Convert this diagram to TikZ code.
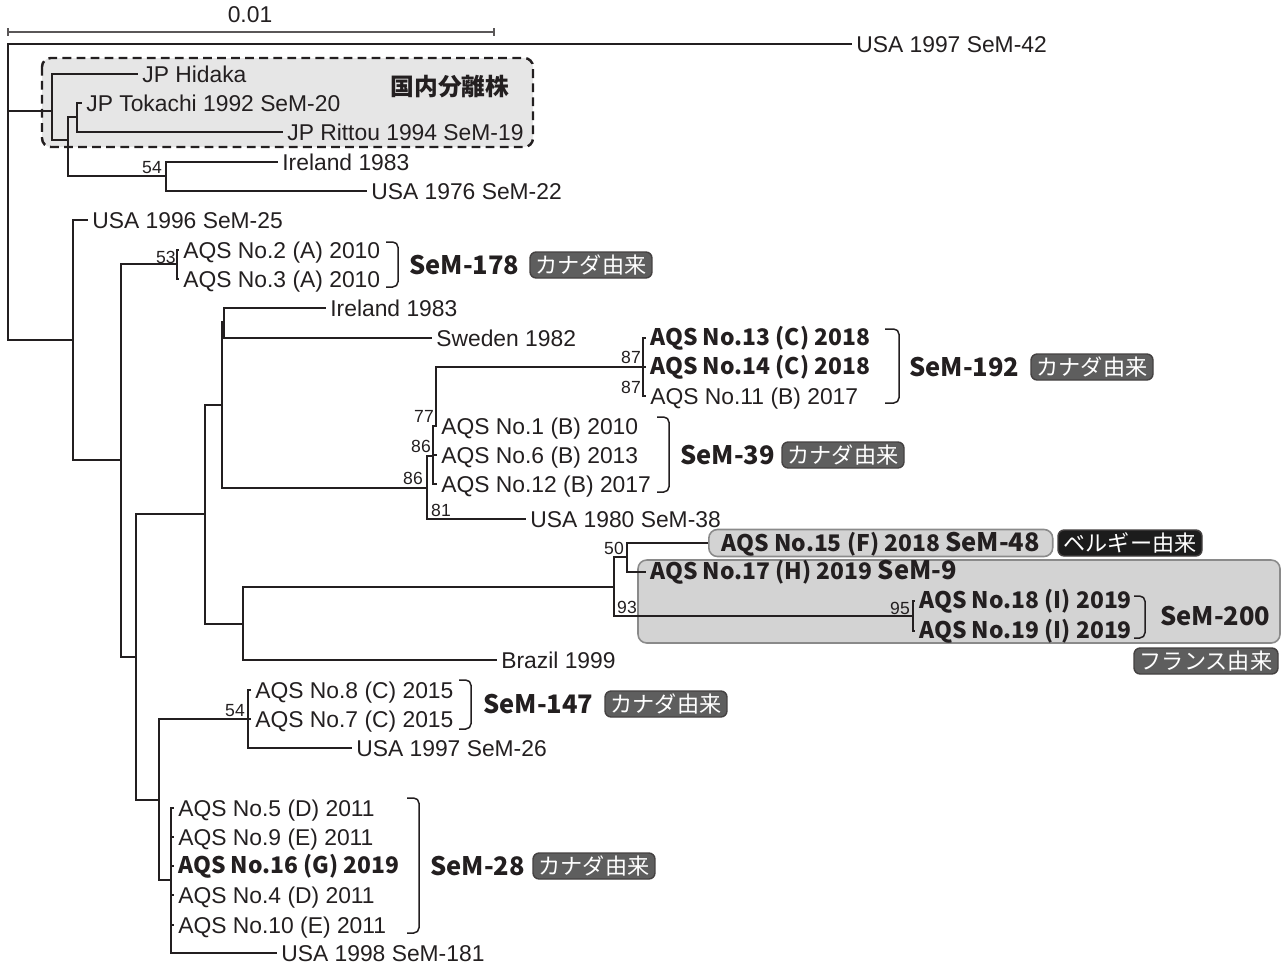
\documentclass[tikz,border=0pt]{standalone}
\usepackage{fontspec}
\setmainfont{Liberation Sans}
\newfontfamily\jpfont{Noto Sans CJK JP}
\usepackage{tikz}
\usetikzlibrary{calc,backgrounds}

\definecolor{ink}{HTML}{231F20}
\definecolor{jpboxgray}{HTML}{E6E6E6}
\definecolor{cladegray}{HTML}{D3D3D3}
\definecolor{edgegray}{HTML}{8A8A8A}
\definecolor{badgegray}{HTML}{5E5E5E}
\definecolor{badgedark}{HTML}{1C1C1C}

\tikzset{
  branch/.style={draw=ink,line width=1.1pt},
  leaf/.style={anchor=west,inner xsep=0.08cm,inner ysep=0pt,text height=9.3pt,text depth=0pt,
    text=ink,font=\fontsize{13}{14}\selectfont},
  leafbold/.style={leaf,text height=8.6pt,font=\jpfont\bfseries\fontsize{13}{15}\selectfont},
  boot/.style={inner sep=0pt,text=ink,font=\fontsize{10}{11}\selectfont},
  semlab/.style={anchor=west,inner sep=0pt,text=ink,font=\jpfont\bfseries\fontsize{14.5}{17}\selectfont},
  brack/.style={draw=ink,line width=0.85pt,rounded corners=3pt},
  badge/.style={rounded corners=3.5pt,fill=badgegray,draw=ink!85,line width=0.8pt,text=white,
    font=\jpfont\fontsize{12.6}{12}\selectfont,minimum width=2.44cm,minimum height=0.52cm,inner sep=0pt},
  widebadge/.style={badge,minimum width=2.88cm},
}

\begin{document}
\begin{tikzpicture}[x=0.02cm,y=-0.02cm]
	\useasboundingbox (0,0) rectangle (1284,967);

	%shaded boxes
	\filldraw[fill=jpboxgray,draw=ink,line width=1.4pt,dash pattern=on 5pt off 3pt,rounded corners=5pt]
		(42,58) rectangle (533,147);
	\filldraw[fill=cladegray,draw=edgegray,line width=0.9pt,rounded corners=5pt]
		(638,560) rectangle (1280,643);

	%scale bar
	\coordinate (sb0) at (8,32);
	\coordinate (sb1) at (494,32);
	\draw[ink!75,line width=0.7pt] (sb0) -- (sb1);
	\draw[ink!75,line width=0.7pt] ($(sb0)+(0,-4)$) -- ($(sb0)+(0,4)$);
	\draw[ink!75,line width=0.7pt] ($(sb1)+(0,-4)$) -- ($(sb1)+(0,4)$);
	\node[text=ink,font=\fontsize{13}{14}\selectfont] (sblab) at (250,15) {0.01};

	%leaves
	\node[leaf] (usa42)   at (852,44)  {USA 1997 SeM-42};
	\node[leaf] (hidaka)  at (138,74)  {JP Hidaka};
	\node[leaf] (tokachi) at (82,103)  {JP Tokachi 1992 SeM-20};
	\node[leaf] (rittou)  at (283,132) {JP Rittou 1994 SeM-19};
	\node[leaf] (ire83a)  at (278,162) {Ireland 1983};
	\node[leaf] (usa22)   at (367,191) {USA 1976 SeM-22};
	\node[leaf] (usa25)   at (88,220)  {USA 1996 SeM-25};
	\node[leaf] (aqs2)    at (179,250) {AQS No.2 (A) 2010};
	\node[leaf] (aqs3)    at (179,279) {AQS No.3 (A) 2010};
	\node[leaf] (ire83b)  at (326,308) {Ireland 1983};
	\node[leaf] (swe82)   at (432,338) {Sweden 1982};
	\node[leafbold] (aqs13) at (646,338) {AQS No.13 (C) 2018};
	\node[leafbold] (aqs14) at (646,367) {AQS No.14 (C) 2018};
	\node[leaf] (aqs11)   at (646,396) {AQS No.11 (B) 2017};
	\node[leaf] (aqs1)    at (437,426) {AQS No.1 (B) 2010};
	\node[leaf] (aqs6)    at (437,455) {AQS No.6 (B) 2013};
	\node[leaf] (aqs12)   at (437,484) {AQS No.12 (B) 2017};
	\node[leaf] (usa38)   at (526,519) {USA 1980 SeM-38};
	\node[leafbold,fill=cladegray,draw=edgegray,line width=0.9pt,rounded corners=5pt,
		inner xsep=0.22cm,inner ysep=2.8pt,text height=9.8pt,minimum width=6.88cm]
		(aqs15) at (708,543) {AQS No.15 (F) 2018 {\fontsize{14.5}{16}\selectfont SeM-48}};
	\node[leafbold] (aqs17)  at (646,572) {AQS No.17 (H) 2019 {\fontsize{14.5}{16}\selectfont SeM-9}};
	\node[leafbold] (aqs18)  at (915,601) {AQS No.18 (I) 2019};
	\node[leafbold] (aqs19)  at (915,631) {AQS No.19 (I) 2019};
	\node[leaf] (bra99)   at (497,660) {Brazil 1999};
	\node[leaf] (aqs8)    at (251,690) {AQS No.8 (C) 2015};
	\node[leaf] (aqs7)    at (251,719) {AQS No.7 (C) 2015};
	\node[leaf] (usa26)   at (352,748) {USA 1997 SeM-26};
	\node[leaf] (aqs5)    at (174,808) {AQS No.5 (D) 2011};
	\node[leaf] (aqs9)    at (174,837) {AQS No.9 (E) 2011};
	\node[leafbold] (aqs16) at (174,866) {AQS No.16 (G) 2019};
	\node[leaf] (aqs4)    at (174,895) {AQS No.4 (D) 2011};
	\node[leaf] (aqs10)   at (174,925) {AQS No.10 (E) 2011};
	\node[leaf] (usa181)  at (277,953) {USA 1998 SeM-181};

	%inner nodes
	\coordinate (root) at (8,111);
	\coordinate (jpa)  at (52,111);
	\coordinate (jpb)  at (68,140);
	\coordinate (jpc)  at (77,117);
	\coordinate (ire)  at (166,176);
	\coordinate (b1)   at (73,340);
	\coordinate (b2)   at (121,460);
	\coordinate (b3)   at (177,264);
	\coordinate (b4)   at (136,657);
	\coordinate (c1)   at (205,514);
	\coordinate (c2)   at (222,405);
	\coordinate (c3)   at (224,322);
	\coordinate (c4)   at (427,488);
	\coordinate (c5)   at (433,456);
	\coordinate (c6)   at (436,426);
	\coordinate (c7)   at (643,367);
	\coordinate (e1)   at (243,624);
	\coordinate (e2)   at (614,587);
	\coordinate (e3)   at (627,557);
	\coordinate (e4)   at (913,616);
	\coordinate (d1)   at (159,800);
	\coordinate (d2)   at (248,719);
	\coordinate (d3)   at (171,880);

	%branches
	\draw[branch] (root) |- (usa42.west);
	\draw[branch] (root) -- (jpa);
	\draw[branch] (root) |- (b1);
	\draw[branch] (jpa) |- (hidaka.west);
	\draw[branch] (jpa) |- (jpb);
	\draw[branch] (jpb) |- (jpc);
	\draw[branch] (jpb) |- (ire);
	\draw[branch] (jpc) |- (tokachi.west);
	\draw[branch] (jpc) |- (rittou.west);
	\draw[branch] (ire) |- (ire83a.west);
	\draw[branch] (ire) |- (usa22.west);
	\draw[branch] (b1) |- (usa25.west);
	\draw[branch] (b1) |- (b2);
	\draw[branch] (b2) |- (b3);
	\draw[branch] (b2) |- (b4);
	\draw[branch] (b3) |- (aqs2.west);
	\draw[branch] (b3) |- (aqs3.west);
	\draw[branch] (b4) |- (c1);
	\draw[branch] (b4) |- (d1);
	\draw[branch] (c1) |- (c2);
	\draw[branch] (c1) |- (e1);
	\draw[branch] (c2) |- (c3);
	\draw[branch] (c2) |- (c4);
	\draw[branch] (c3) |- (ire83b.west);
	\draw[branch] (c3) |- (swe82.west);
	\draw[branch] (c4) |- (c5);
	\draw[branch] (c4) |- (usa38.west);
	\draw[branch] (c5) |- (c6);
	\draw[branch] (c5) |- (aqs6.west);
	\draw[branch] (c5) |- (aqs12.west);
	\draw[branch] (c6) |- (c7);
	\draw[branch] (c6) |- (aqs1.west);
	\draw[branch] (c7) |- (aqs13.west);
	\draw[branch] (c7) |- (aqs14.west);
	\draw[branch] (c7) |- (aqs11.west);
	\draw[branch] (e1) |- (e2);
	\draw[branch] (e1) |- (bra99.west);
	\draw[branch] (e2) |- (e3);
	\draw[branch] (e2) |- (e4);
	\draw[branch] (e3) |- (aqs15.west);
	\draw[branch] (e3) |- (aqs17.west);
	\draw[branch] (e4) |- (aqs18.west);
	\draw[branch] (e4) |- (aqs19.west);
	\draw[branch] (d1) |- (d2);
	\draw[branch] (d1) |- (d3);
	\draw[branch] (d2) |- (aqs8.west);
	\draw[branch] (d2) |- (aqs7.west);
	\draw[branch] (d2) |- (usa26.west);
	\draw[branch] (d3) |- (aqs5.west);
	\draw[branch] (d3) |- (aqs9.west);
	\draw[branch] (d3) |- (aqs16.west);
	\draw[branch] (d3) |- (aqs4.west);
	\draw[branch] (d3) |- (aqs10.west);
	\draw[branch] (d3) |- (usa181.west);

	%bootstrap values
	\node[boot] (bs54a) at (152,168) {54};
	\node[boot] (bs53)  at (166,257) {53};
	\node[boot] (bs87a) at (631,357) {87};
	\node[boot] (bs87b) at (631,387) {87};
	\node[boot] (bs77)  at (424,416) {77};
	\node[boot] (bs86a) at (421,446) {86};
	\node[boot] (bs86b) at (413,478) {86};
	\node[boot] (bs81)  at (441,510) {81};
	\node[boot] (bs50)  at (614,548) {50};
	\node[boot] (bs93)  at (627,607) {93};
	\node[boot] (bs95)  at (900,608) {95};
	\node[boot] (bs54b) at (235,711) {54};

	%brackets
	\draw[brack] (386,242) -| (398,287) -- (386,287);
	\draw[brack] (885,329) -| (899,403) -- (885,403);
	\draw[brack] (657,417) -| (669,492) -- (657,492);
	\draw[brack] (1134,596) -| (1145,638) -- (1134,638);
	\draw[brack] (459,680) -| (471,729) -- (459,729);
	\draw[brack] (407,798) -| (419,933) -- (407,933);

	%clade labels
	\node[font=\jpfont\bfseries\fontsize{13.5}{15}\selectfont,text=ink] (jplab) at (450,87) {国内分離株};
	\node[semlab] (sem178) at (409,265) {SeM-178};
	\node[semlab] (sem192) at (909,367) {SeM-192};
	\node[semlab] (sem39)  at (680,455) {SeM-39};
	\node[semlab] (sem200) at (1160,616) {SeM-200};
	\node[semlab] (sem147) at (483,704) {SeM-147};
	\node[semlab] (sem28)  at (430,866) {SeM-28};

	%origin badges
	\node[badge] (ca178) at (591,265) {カナダ由来};
	\node[badge] (ca192) at (1092,367) {カナダ由来};
	\node[badge] (ca39)  at (843,455) {カナダ由来};
	\node[badge] (ca147) at (666,704) {カナダ由来};
	\node[badge] (ca28)  at (594,866) {カナダ由来};
	\node[widebadge,fill=badgedark] (be48) at (1130,543) {ベルギー由来};
	\node[widebadge] (fr200) at (1206,661) {フランス由来};

	%\draw[help lines] (0,0) grid[step=100] (1284,967);
\end{tikzpicture}
\end{document}
